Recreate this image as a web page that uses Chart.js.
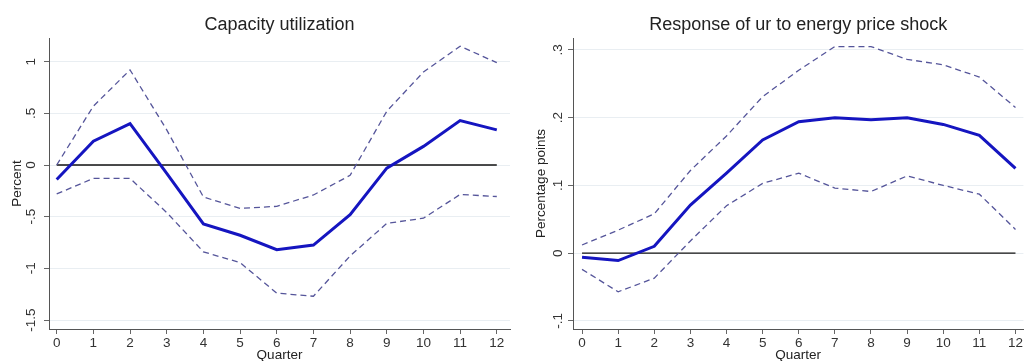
<!DOCTYPE html>
<html>
<head>
    <script src="https://cdn.jsdelivr.net/npm/chart.js"></script>
    <style>
        body { margin: 0; background: #fff; }
        canvas { position: absolute; top: 0; }
    </style>
</head>
<body>
    <canvas id="capChart" width="512" height="361" style="left:0"></canvas>
    <canvas id="urChart" width="512" height="361" style="left:512px"></canvas>
    <script>
        // quarters after the shock
        const quarters = [0, 1, 2, 3, 4, 5, 6, 7, 8, 9, 10, 11, 12];

        // capacity utilization (percent)
        const capIrf   = [-0.14, 0.23, 0.40, -0.08, -0.57, -0.68, -0.82, -0.775, -0.48, -0.03, 0.18, 0.43, 0.34];
        const capUpper = [0.00, 0.57, 0.92, 0.34, -0.31, -0.42, -0.40, -0.29, -0.10, 0.52, 0.90, 1.15, 0.99];
        const capLower = [-0.28, -0.13, -0.13, -0.46, -0.84, -0.945, -1.24, -1.27, -0.88, -0.565, -0.515, -0.285, -0.305];
        const capTicks = [-1.5, -1, -0.5, 0, 0.5, 1];

        // unemployment rate response (percentage points)
        const urIrf   = [-0.006, -0.011, 0.010, 0.071, 0.118, 0.167, 0.194, 0.200, 0.197, 0.200, 0.190, 0.174, 0.125];
        const urUpper = [0.012, 0.034, 0.058, 0.122, 0.173, 0.231, 0.270, 0.305, 0.305, 0.286, 0.278, 0.260, 0.215];
        const urLower = [-0.024, -0.057, -0.037, 0.018, 0.070, 0.103, 0.118, 0.096, 0.091, 0.114, 0.100, 0.087, 0.035];
        const urTicks = [-0.1, 0, 0.1, 0.2, 0.3];

        Chart.defaults.font.family = '"Liberation Sans", Arial, sans-serif';
        Chart.defaults.color = '#333';

        const pts = arr => arr.map((v, i) => ({ x: quarters[i], y: v }));
        const stataLabel = v => {
            let s = String(Math.round(v * 100) / 100);
            return s.replace(/^0\./, '.').replace(/^-0\./, '-.');
        };

        function makeChart(id, cfg) {
            const ctx = document.getElementById(id).getContext('2d');
            return new Chart(ctx, {
                type: 'line',
                data: {
                    datasets: [
                        { data: pts(cfg.irf), borderColor: '#1515c0', borderWidth: 3 },
                        { data: pts(cfg.upper), borderColor: '#55559a', borderWidth: 1.3, borderDash: [6, 4] },
                        { data: pts(cfg.lower), borderColor: '#55559a', borderWidth: 1.3, borderDash: [6, 4] },
                        { data: pts(quarters.map(() => 0)), borderColor: '#111', borderWidth: 1.3 }
                    ]
                },
                options: {
                    responsive: false,
                    devicePixelRatio: 1,
                    animation: false,
                    layout: { padding: { left: 0, right: cfg.padRight, top: 0, bottom: 0 } },
                    elements: { point: { radius: 0 }, line: { tension: 0, fill: false } },
                    plugins: {
                        legend: { display: false },
                        tooltip: { enabled: false },
                        title: {
                            display: true,
                            text: cfg.title,
                            fullSize: false,
                            color: '#222',
                            font: { size: 18, weight: 'normal' },
                            padding: { top: 14, bottom: 2.4 }
                        }
                    },
                    scales: {
                        x: {
                            type: 'linear',
                            min: cfg.xMin,
                            max: cfg.xMax,
                            afterBuildTicks: s => { s.ticks = quarters.map(v => ({ value: v })); },
                            afterFit: s => { s.height = 32; },
                            grid: { drawOnChartArea: false, drawTicks: true, tickLength: 5, tickColor: '#666' },
                            border: { color: '#555', width: 1 },
                            ticks: { font: { size: 13.5 }, padding: 1, maxRotation: 0, color: '#333' },
                            title: {
                                display: true, text: 'Quarter', color: '#222',
                                font: { size: 13.5 }, padding: { top: 0, bottom: -2.5 }
                            }
                        },
                        y: {
                            min: cfg.yMin,
                            max: cfg.yMax,
                            afterBuildTicks: s => { s.ticks = cfg.ticks.map(v => ({ value: v })); },
                            afterFit: s => { s.width = cfg.yWidth; },
                            grid: { color: '#e9eef2', lineWidth: 1, tickLength: 5, tickColor: '#666' },
                            border: { color: '#555', width: 1 },
                            ticks: {
                                font: { size: 13.5 }, color: '#333',
                                minRotation: 90, maxRotation: 90,
                                crossAlign: 'center', padding: cfg.tickPad,
                                callback: v => stataLabel(v)
                            },
                            title: {
                                display: true, text: cfg.yTitle, color: '#222',
                                font: { size: 13.5 }, padding: { top: cfg.titlePad, bottom: 0 }
                            }
                        }
                    }
                }
            });
        }

        makeChart('capChart', {
            title: 'Capacity utilization', yTitle: 'Percent',
            irf: capIrf, upper: capUpper, lower: capLower, ticks: capTicks,
            xMin: -0.21, xMax: 12.36, yMin: -1.587, yMax: 1.229,
            yWidth: 49, padRight: 2, tickPad: 1, titlePad: 9
        });

        makeChart('urChart', {
            title: 'Response of ur to energy price shock', yTitle: 'Percentage points',
            irf: urIrf, upper: urUpper, lower: urLower, ticks: urTicks,
            xMin: -0.25, xMax: 12.22, yMin: -0.112, yMax: 0.3176,
            yWidth: 61, padRight: 0, tickPad: 1.6, titlePad: 21.6
        });
    </script>
</body>
</html>
